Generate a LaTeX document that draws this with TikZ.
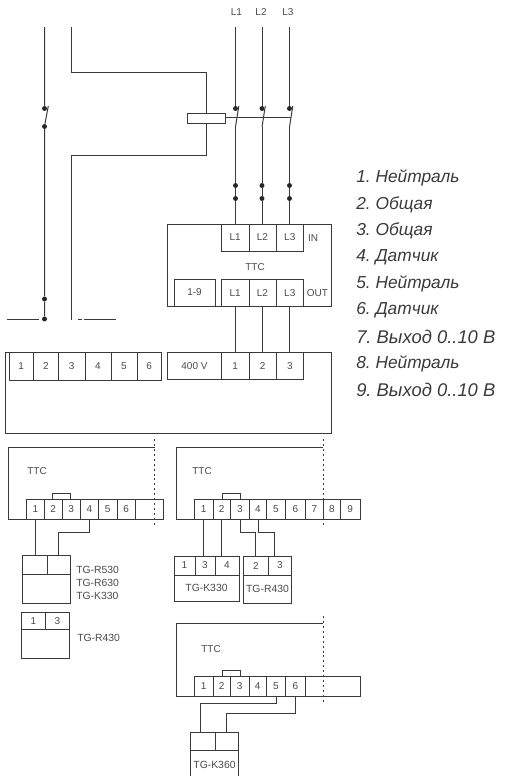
\documentclass[tikz,border=0pt]{standalone}
\usepackage{fontspec}
\setmainfont{Liberation Sans}
\usetikzlibrary{calc}
\definecolor{ink}{HTML}{3A3A3A}
\definecolor{txt}{HTML}{4A4A4A}
\frenchspacing
\tikzset{
  x=0.75pt,y=-0.75pt,
  wire/.style={draw=ink,line width=0.75pt},
  cellbox/.style={draw=ink,line width=0.75pt,inner sep=0pt,outer sep=0pt,text=txt,font=\fontsize{7.5}{8}\selectfont},
  lbl/.style={inner sep=0pt,text=txt,font=\fontsize{7.5}{8}\selectfont},
  tglbl/.style={inner sep=0pt,anchor=west,text=txt,font=\fontsize{7.8}{9}\selectfont},
  listitem/.style={inner sep=0pt,anchor=west,text=ink,font=\fontsize{13}{15}\selectfont\itshape},
  listlong/.style={listitem,font=\fontsize{13.8}{15}\selectfont\itshape},
  dotnode/.style={circle,fill=black!85,inner sep=0pt,minimum size=3.7pt},
  dottedline/.style={draw=ink,line width=0.75pt,dash pattern=on 1.5pt off 2.2pt},
}
% name, x1, y1, x2, y2, text
\newcommand{\cellnode}[6]{%
  \node[cellbox,minimum width={(#4-#2)*0.75pt},minimum height={(#5-#3)*0.75pt}] (#1) at ({(#2+#4)/2},{(#3+#5)/2}) {#6};}
\begin{document}
\begin{tikzpicture}
\useasboundingbox (0,0) rectangle (507,776);
% top labels
\node[lbl] (tL1) at (236.5,12) {L1};
\node[lbl] (tL2) at (261,12) {L2};
\node[lbl] (tL3) at (288,12) {L3};
% dots
\foreach \n/\x in {a/235.5,b/262,c/289.5}{
  \node[dotnode] (\n1) at (\x,108.5) {};
  \node[dotnode] (\n2) at (\x,185.5) {};
  \node[dotnode] (\n3) at (\x,198.5) {};
  \coordinate (\n t) at (\x,27);
  \coordinate (\n s) at (\x,127);
  \coordinate (\n q) at (\x+3.3,106);
  \coordinate (\n m) at (\x+1.7,117);
}
\draw[wire] (at)--(a1) (as)--(a2)--(a3);
\draw[wire] (bt)--(b1) (bs)--(b2)--(b3);
\draw[wire] (ct)--(c1) (cs)--(c2)--(c3);
\draw[wire] (aq)--(as) (bq)--(bs) (cq)--(cs);
% left conductor
\coordinate (Nt) at (44.5,27);
\node[dotnode] (n1) at (44.5,108.5) {};
\node[dotnode] (n2) at (44.5,126.5) {};
\node[dotnode] (n3) at (44.5,299) {};
\node[dotnode] (n4) at (44.5,319) {};
\coordinate (nq) at (48.3,106);
\draw[wire] (Nt)--(n1) (n2)--(n3)--(n4) (nq)--(n2);
\coordinate (gL) at (7,319.5);
\coordinate (gM) at (39,319.5);
\draw[wire] (gL)--(gM);
% coil and its wires
\cellnode{coil}{187}{113}{225}{123}{}
\coordinate (p1) at (71,27);
\coordinate (p2) at (71,72.5);
\coordinate (p3) at (206,72.5);
\coordinate (p4) at (206,155);
\coordinate (p5) at (71,155);
\coordinate (p6) at (71,320);
\draw[wire] (p1)--(p2)--(p3)--(coil.north -| p3);
\draw[wire] (coil.south -| p4)--(p4)--(p5)--(p6);
\draw[wire] (coil.east |- cm)--(cm);
\coordinate (d1) at (78,319.5);\coordinate (d2) at (82,319.5);
\coordinate (d3) at (83.5,319.5);\coordinate (d4) at (116,319.5);
\draw[wire] (d1)--(d2) (d3)--(d4);
% TTC relay
\node[cellbox,minimum width={164*0.75pt},minimum height={82*0.75pt}] (relay) at (249,265) {};
\cellnode{iL1}{221.5}{224}{249}{251}{L1}
\cellnode{iL2}{249}{224}{276}{251}{L2}
\cellnode{iL3}{276}{224}{303.5}{251}{L3}
\node[lbl] (inl) at (313,238) {IN};
\node[lbl] (ttc0) at (255,267) {TTC};
\cellnode{r19}{174}{279}{215}{306}{1-9}
\cellnode{oL1}{221.5}{279.5}{249}{306}{L1}
\cellnode{oL2}{249}{279.5}{276}{306}{L2}
\cellnode{oL3}{276}{279.5}{303.5}{306}{L3}
\node[lbl] (outl) at (317.5,293) {OUT};
\draw[wire] (a3)--(a3 |- iL1.north) (b3)--(b3 |- iL2.north) (c3)--(c3 |- iL3.north);
% big unit
\coordinate (f1) at (161.5,352.5);\coordinate (f2) at (5.5,352.5);\coordinate (f3) at (5.5,433);
\coordinate (f4) at (331,433);\coordinate (f5) at (331,352.5);\coordinate (f6) at (167.5,352.5);
\draw[wire] (f1)--(f2)--(f3)--(f4)--(f5)--(f6);
\cellnode{u1}{9}{352.5}{33.5}{380}{1}
\cellnode{u2}{33.5}{352.5}{58.5}{380}{2}
\cellnode{u3}{58.5}{352.5}{85}{380}{3}
\cellnode{u4}{85}{352.5}{111}{380}{4}
\cellnode{u5}{111}{352.5}{137}{380}{5}
\cellnode{u6}{137}{352.5}{161.5}{380}{6}
\cellnode{v0}{167.5}{352.5}{221.5}{379.5}{400 V}
\cellnode{v1}{221.5}{352.5}{249}{379.5}{1}
\cellnode{v2}{249}{352.5}{276.5}{379.5}{2}
\cellnode{v3}{276.5}{352.5}{303.5}{379.5}{3}
\draw[wire] (oL1.south)--(oL1.south |- v1.north);
\draw[wire] (oL2.south)--(oL2.south |- v2.north);
\draw[wire] (oL3.south)--(oL3.south |- v3.north);
% left TTC
\coordinate (a-1) at (154.5,447);\coordinate (a-2) at (8,447);\coordinate (a-3) at (8,519.5);\coordinate (a-4) at (26.5,519.5);
\draw[wire] (a-1)--(a-2)--(a-3)--(a-4);
\coordinate (a-5) at (154.5,439);\coordinate (a-6) at (154.5,527);
\node[lbl] (ttc1) at (37,471) {TTC};
\cellnode{A1}{26.5}{499.5}{44.5}{519.5}{1}
\cellnode{A2}{44.5}{499.5}{62}{519.5}{2}
\cellnode{A3}{62}{499.5}{80.5}{519.5}{3}
\cellnode{A4}{80.5}{499.5}{98.5}{519.5}{4}
\cellnode{A5}{98.5}{499.5}{117}{519.5}{5}
\cellnode{A6}{117}{499.5}{135.5}{519.5}{6}
\cellnode{A7}{135.5}{499.5}{163}{519.5}{}
\draw[dottedline] (a-5)--(a-6);
\draw[wire] (A2.north)++(-0.5,0) |- ++(18,-6.5) coordinate (ab) -- (ab |- A3.north);
\cellnode{P1}{22.5}{555.5}{47}{574}{}
\cellnode{P2}{47}{555.5}{70.5}{574}{}
\cellnode{P0}{22.5}{574}{70.5}{603}{}
\draw[wire] (A1.south)--(A1.south |- P1.north);
\coordinate (ra) at (58.5,532);
\draw[wire] (A4.south)|-(ra)--(ra |- P2.north);
\node[tglbl] (tg1) at (76,570) {TG-R530};
\node[tglbl] (tg2) at (76,583) {TG-R630};
\node[tglbl] (tg3) at (76,596) {TG-K330};
\cellnode{Q1}{21.5}{612}{45.5}{629.5}{1}
\cellnode{Q2}{45.5}{612}{69.5}{629.5}{3}
\cellnode{Q0}{21.5}{629.5}{69.5}{658}{}
\node[tglbl] (tg4) at (77,638) {TG-R430};
% middle TTC
\coordinate (b-1) at (323,447);\coordinate (b-2) at (176.5,447);\coordinate (b-3) at (176.5,519.5);\coordinate (b-4) at (194.5,519.5);
\draw[wire] (b-1)--(b-2)--(b-3)--(b-4);
\coordinate (b-5) at (323,439);\coordinate (b-6) at (323,527);
\node[lbl] (ttc2) at (202,471) {TTC};
\cellnode{B1}{194.5}{499.5}{213}{519.5}{1}
\cellnode{B2}{213}{499.5}{230.5}{519.5}{2}
\cellnode{B3}{230.5}{499.5}{249.5}{519.5}{3}
\cellnode{B4}{249.5}{499.5}{266.5}{519.5}{4}
\cellnode{B5}{266.5}{499.5}{285.5}{519.5}{5}
\cellnode{B6}{285.5}{499.5}{305.5}{519.5}{6}
\cellnode{B7}{305.5}{499.5}{323.5}{519.5}{7}
\cellnode{B8}{323.5}{499.5}{340.5}{519.5}{8}
\cellnode{B9}{340.5}{499.5}{360}{519.5}{9}
\draw[dottedline] (b-5)--(b-6);
\draw[wire] (222.5,499.5) |- (240.5,493.5) coordinate (bb) -- (bb |- B3.north);
\cellnode{K1}{174}{556}{195}{575}{1}
\cellnode{K2}{195}{556}{215}{575}{3}
\cellnode{K3}{215}{556}{239}{575}{4}
\node[cellbox,minimum width={65*0.75pt},minimum height={26*0.75pt},font=\fontsize{7.8}{9}\selectfont] (K0) at (206.5,588) {TG-K330};
\cellnode{R1}{243.5}{556}{268.5}{575}{2}
\cellnode{R2}{268.5}{556}{291.5}{575}{3}
\node[cellbox,minimum width={48*0.75pt},minimum height={28*0.75pt},font=\fontsize{7.8}{9}\selectfont] (R0) at (267.5,589) {TG-R430};
\draw[wire] (B1.south)--(B1.south |- K2.north);
\draw[wire] (B2.south)--(B2.south |- K3.north);
\coordinate (rb) at (255.5,532);\coordinate (rc) at (274,532);
\draw[wire] (B3.south)|-(rb)--(rb |- R1.north);
\draw[wire] (B4.south)|-(rc)--(rc |- R2.north);
% lower TTC
\coordinate (c-1) at (323,623.5);\coordinate (c-2) at (176.5,623.5);\coordinate (c-3) at (176.5,696.5);\coordinate (c-4) at (194.5,696.5);
\draw[wire] (c-1)--(c-2)--(c-3)--(c-4);
\coordinate (c-5) at (323,616);\coordinate (c-6) at (323,703);
\node[lbl] (ttc3) at (211,649) {TTC};
\cellnode{C1}{194.5}{676}{213}{696.5}{1}
\cellnode{C2}{213}{676}{230.5}{696.5}{2}
\cellnode{C3}{230.5}{676}{249}{696.5}{3}
\cellnode{C4}{249}{676}{266.5}{696.5}{4}
\cellnode{C5}{266.5}{676}{285.5}{696.5}{5}
\cellnode{C6}{285.5}{676}{305.5}{696.5}{6}
\cellnode{C7}{305.5}{676}{360}{696.5}{}
\draw[dottedline] (c-5)--(c-6);
\draw[wire] (222,676) |- (240,670) coordinate (cb) -- (cb |- C3.north);
\cellnode{T1}{190.5}{732.5}{215.5}{750.5}{}
\cellnode{T2}{215.5}{732.5}{238.5}{750.5}{}
\coordinate (tb1) at (238.5,776);\coordinate (tb2) at (190.5,776);
\draw[wire] (T2.south east)--(tb1) (T1.south west)--(tb2);
\node[lbl,font=\fontsize{7.8}{9}\selectfont] (tk) at (214.5,765) {TG-K360};
\coordinate (ta) at (200,703);\coordinate (tc) at (226.5,713.5);
\draw[wire] (C5.south)|-(ta)--(ta |- T1.north);
\draw[wire] (C6.south)|-(tc)--(tc |- T2.north);
% legend
\node[listitem] (l1) at (356,178) {1. Нейтраль};
\node[listitem] (l2) at (356,204.5) {2. Общая};
\node[listitem] (l3) at (356,231) {3. Общая};
\node[listitem] (l4) at (356,257) {4. Датчик};
\node[listitem] (l5) at (356,284) {5. Нейтраль};
\node[listitem] (l6) at (356,310) {6. Датчик};
\node[listlong] (l7) at (356,337) {7. Выход 0..10 В};
\node[listitem] (l8) at (356,364) {8. Нейтраль};
\node[listlong] (l9) at (356,390) {9. Выход 0..10 В};
\end{tikzpicture}
\end{document}
